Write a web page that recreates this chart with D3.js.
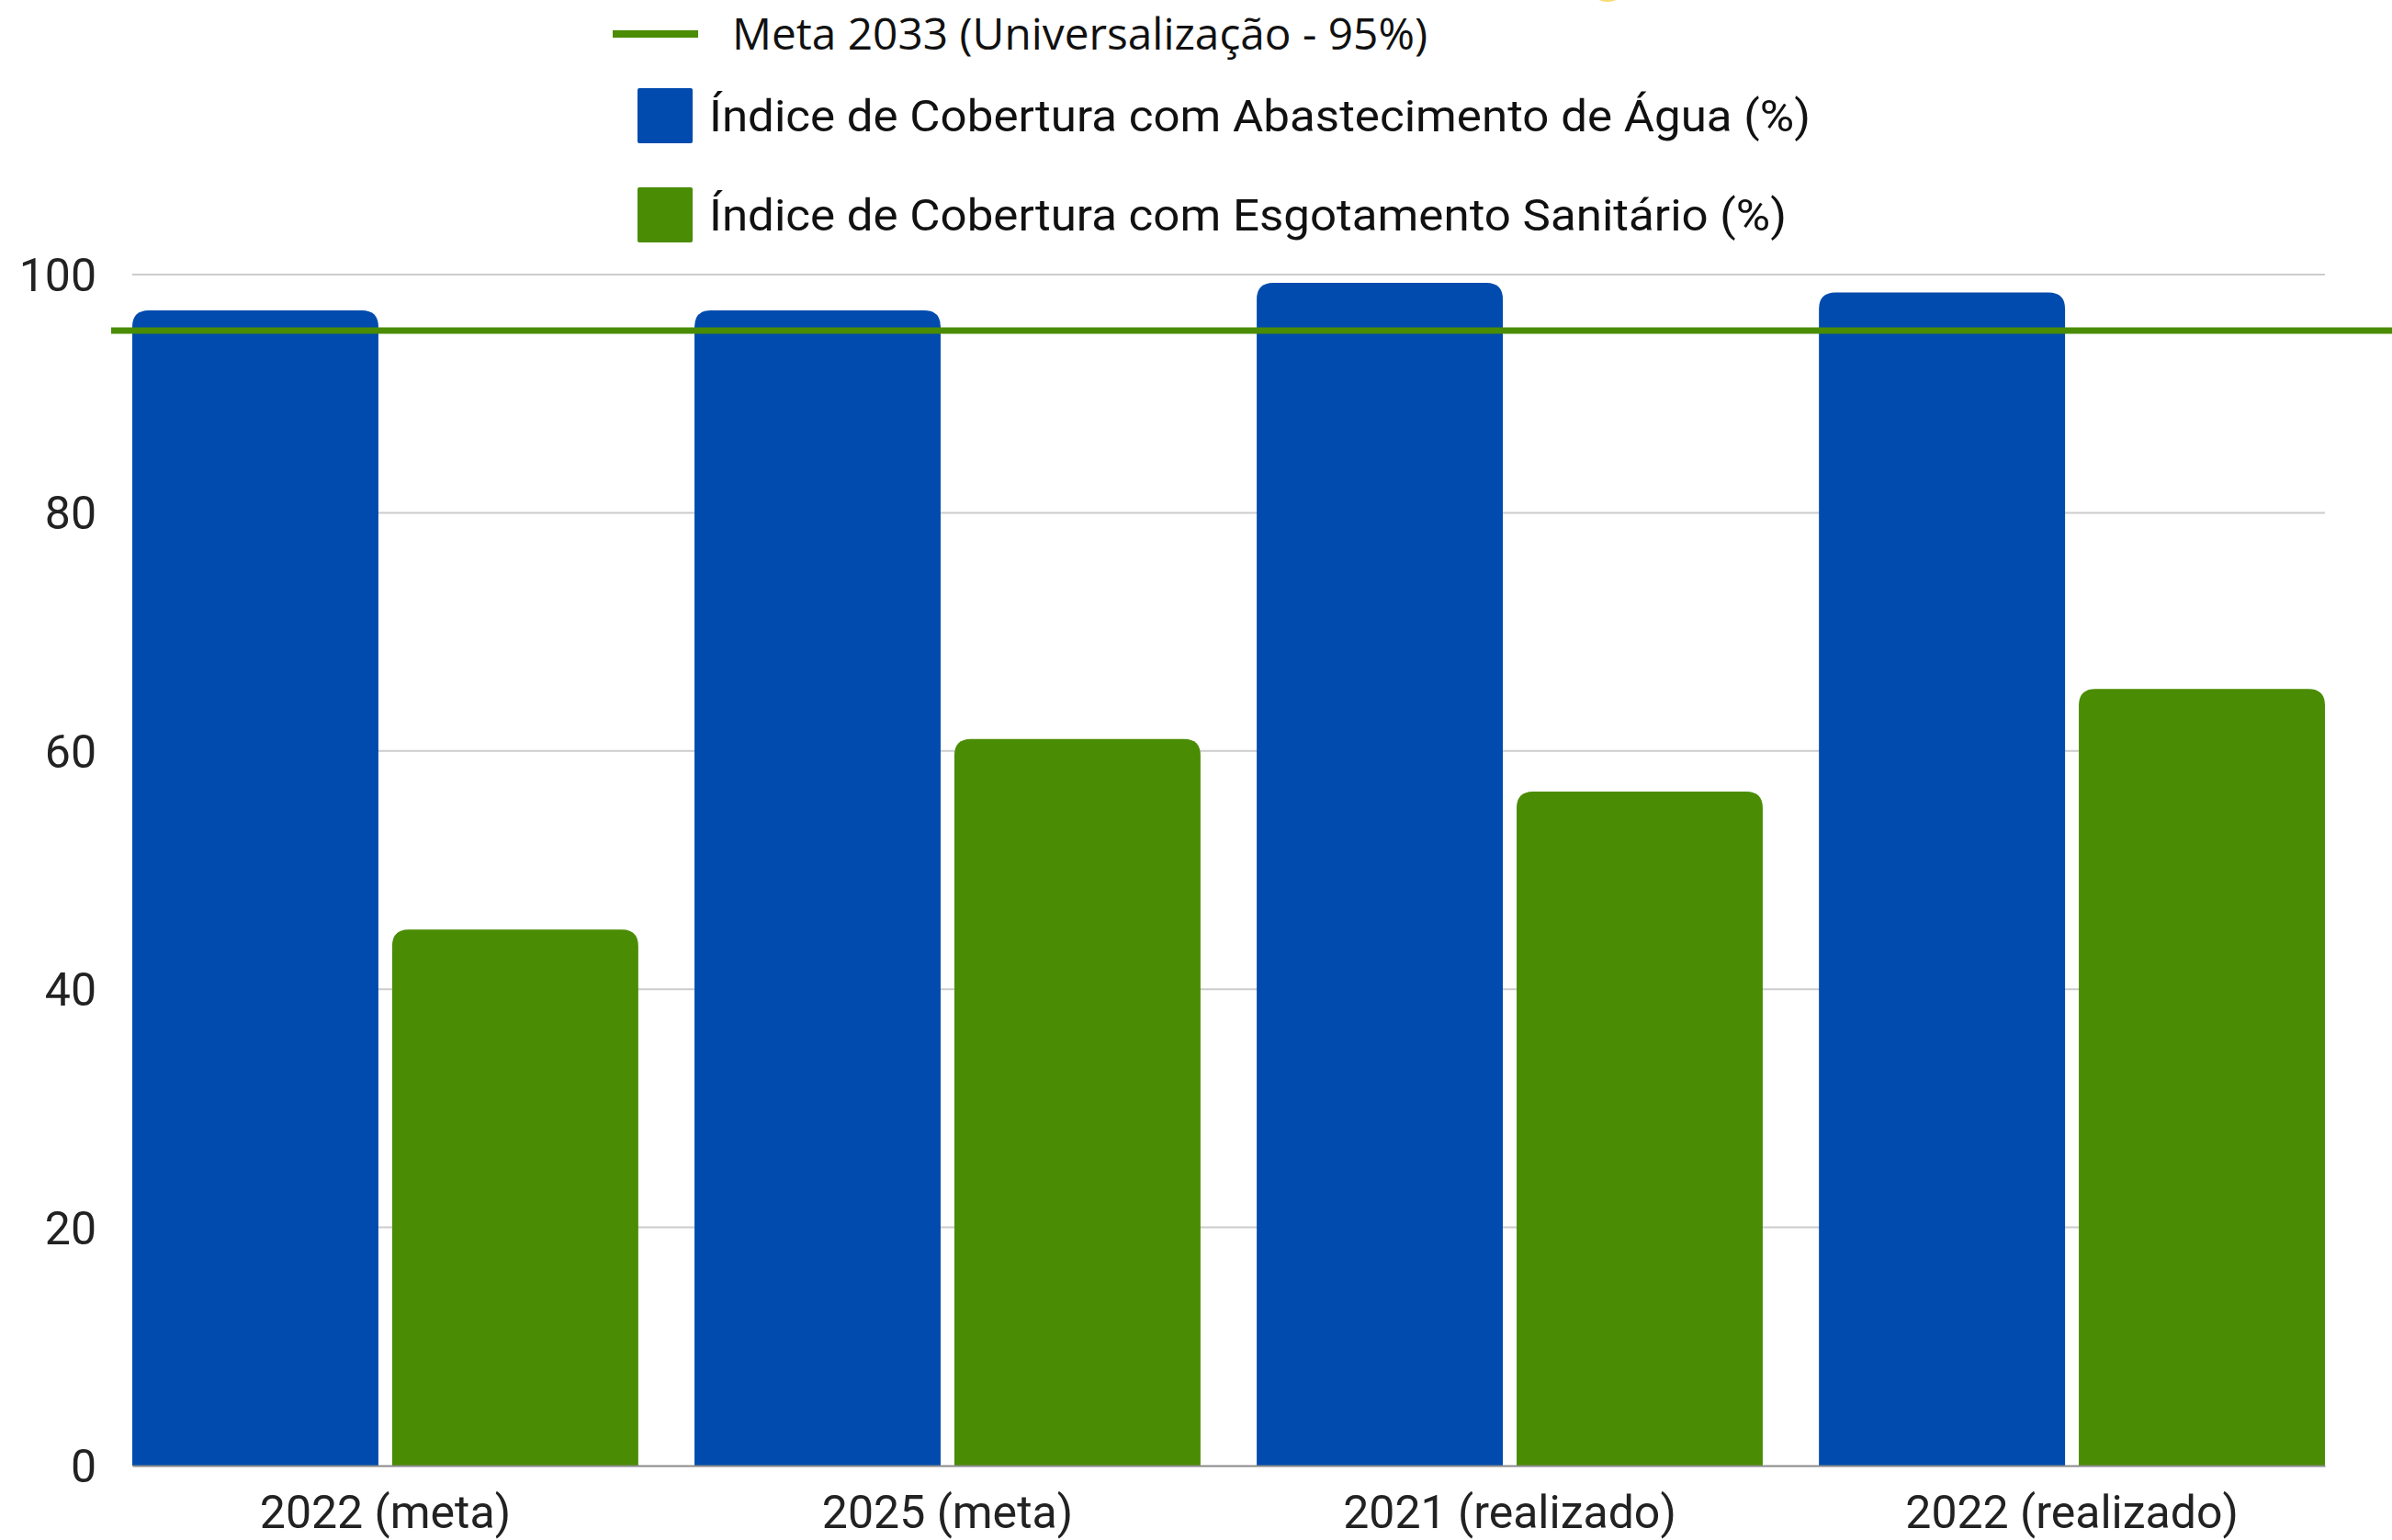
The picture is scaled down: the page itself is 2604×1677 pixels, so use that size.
<!DOCTYPE html>
<html>
<head>
<meta charset="utf-8">
<script src="https://cdn.jsdelivr.net/npm/d3@7"></script>
<style>
  html, body { margin: 0; padding: 0; background: #ffffff; }
  svg { display: block; }
</style>
</head>
<body>
<svg id="chart" width="2604" height="1677"></svg>
<script>
// ---- data ----
const categories = ["2022 (meta)", "2025 (meta)", "2021 (realizado)", "2022 (realizado)"];
const seriesNames = ["Índice de Cobertura com Abastecimento de Água (%)", "Índice de Cobertura com Esgotamento Sanitário (%)"];
const aguaValues = [97.0, 97.0, 99.3, 98.5];
const esgotoValues = [45.0, 61.0, 56.6, 65.2];
const metaLabel = "Meta 2033 (Universalização - 95%)";
const metaValue = [95.3];
const yTicks = [0, 20, 40, 60, 80, 100];

// ---- styles ----
const BLUE = "#004BAD";
const GREEN = "#4A8C03";
const W = 2604, H = 1677;
const margin = { left: 144, right: W - 2531, top: 299, bottom: H - 1596 };

const svg = d3.select("#chart");

const x0 = d3.scaleBand().domain(categories).range([margin.left, W - margin.right])
  .paddingInner(0.1).paddingOuter(0);
const x1 = d3.scaleBand().domain([0, 1]).range([0, x0.bandwidth()]).paddingInner(0.053).paddingOuter(0);
const y = d3.scaleLinear().domain([0, 100]).range([H - margin.bottom, margin.top]);

// gridlines
svg.append("g").selectAll("line").data(yTicks.filter(d => d > 0)).join("line")
  .attr("x1", margin.left).attr("x2", W - margin.right)
  .attr("y1", d => y(d)).attr("y2", d => y(d))
  .attr("stroke", "#cccccc").attr("stroke-width", 2);

// y axis labels
const yAxis = d3.axisLeft(y).tickValues(yTicks).tickSize(0).tickPadding(0).tickFormat(d3.format("d"));
const gy = svg.append("g").attr("transform", `translate(105,0)`).call(yAxis);
gy.select(".domain").remove();
gy.selectAll("text").attr("font-family", "Roboto").attr("font-size", 50).attr("fill", "#222").attr("dy", "0.35em");

// bars
function topRounded(x, yTop, w, h, r) {
  r = Math.min(r, h, w / 2);
  return `M${x},${yTop + h}V${yTop + r}Q${x},${yTop} ${x + r},${yTop}H${x + w - r}Q${x + w},${yTop} ${x + w},${yTop + r}V${yTop + h}Z`;
}
const rows = categories.map((c, i) => ({ cat: c, vals: [aguaValues[i], esgotoValues[i]] }));
const gBars = svg.append("g");
rows.forEach(r => {
  r.vals.forEach((v, k) => {
    const bx = x0(r.cat) + x1(k);
    gBars.append("path")
      .attr("d", topRounded(bx, y(v), x1.bandwidth(), y(0) - y(v), 18))
      .attr("fill", k === 0 ? BLUE : GREEN);
  });
});

// baseline axis
const xAxis = d3.axisBottom(x0).tickSize(0).tickPadding(0);
const gx = svg.append("g").attr("transform", `translate(0,${y(0)})`).call(xAxis);
gx.select(".domain").attr("stroke", "#8a8a8a").attr("stroke-width", 2);
gx.selectAll("text").attr("font-family", "Roboto").attr("font-size", 50).attr("fill", "#222")
  .attr("y", 68).attr("dy", 0);

// meta line
svg.append("g").selectAll("line").data(metaValue).join("line")
  .attr("x1", 121).attr("x2", W)
  .attr("y1", d => y(d)).attr("y2", d => y(d))
  .attr("stroke", GREEN).attr("stroke-width", 7);

// small decorative yellow fragment at top
svg.append("ellipse").attr("cx", 1750).attr("cy", -12).attr("rx", 18).attr("ry", 14)
  .attr("fill", "#f6d24a").attr("opacity", 0.8);

// legend
const lg = svg.append("g");
lg.append("line").attr("x1", 667).attr("x2", 760).attr("y1", 37).attr("y2", 37)
  .attr("stroke", GREEN).attr("stroke-width", 8);
lg.append("text").attr("x", 797).attr("y", 54).text(metaLabel)
  .attr("font-family", "Open Sans").attr("font-size", 47).attr("fill", "#111")
  .attr("textLength", 757).attr("lengthAdjust", "spacingAndGlyphs");
const legendItems = [{ name: seriesNames[0], color: BLUE, yTop: 96, base: 143, len: 1199 },
                     { name: seriesNames[1], color: GREEN, yTop: 204, base: 251, len: 1173 }];
legendItems.forEach(it => {
  lg.append("rect").attr("x", 694).attr("y", it.yTop).attr("width", 60).attr("height", 60)
    .attr("rx", 2).attr("fill", it.color);
  lg.append("text").attr("x", 772).attr("y", it.base).text(it.name)
    .attr("font-family", "Roboto").attr("font-size", 49).attr("fill", "#111")
    .attr("textLength", it.len).attr("lengthAdjust", "spacingAndGlyphs");
});
</script>
</body>
</html>
